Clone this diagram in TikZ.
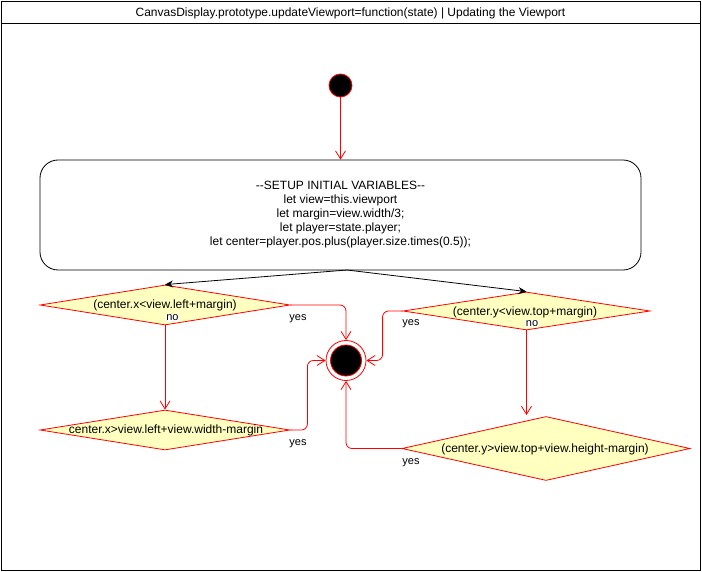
\documentclass[tikz,border=0pt]{standalone}
\usepackage{fontspec}
\setmainfont{Liberation Sans}
\usetikzlibrary{shapes.geometric,arrows.meta}
\definecolor{ured}{HTML}{FF0000}
\definecolor{uyellow}{HTML}{FFFFC0}
\tikzset{
  frame/.style={draw=black, line width=0.8pt},
  txt/.style={font=\fontsize{12}{14}\selectfont, inner sep=0pt, align=center},
  lbl/.style={font=\fontsize{11}{13}\selectfont, inner sep=0.5pt},
  startnode/.style={circle, draw=ured, fill=black, minimum size=23pt, inner sep=0pt, line width=0.8pt},
  finouter/.style={circle, draw=ured, fill=white, minimum size=40pt, inner sep=0pt, line width=0.8pt},
  fininner/.style={circle, draw=ured, fill=black, minimum size=31pt, inner sep=0pt, line width=0.8pt},
  actbox/.style={draw=black, fill=white, rounded corners=18pt, line width=0.8pt, inner sep=0pt},
  decision/.style={diamond, draw=ured, fill=uyellow, inner sep=0pt, line width=0.8pt},
  redflow/.style={draw=ured, line width=0.8pt, -{Straight Barb[length=8pt,width=10pt]}},
  blackflow/.style={draw=black, line width=0.8pt, -{Stealth[length=8pt,width=7pt]}},
}
\begin{document}
\begin{tikzpicture}[x=1pt,y=-1pt]
\useasboundingbox (0,0) rectangle (702,572);
% frame
\draw[frame] (1,1) rectangle (700,570);
\draw[frame] (1,23) -- (700,23);
\node[txt] (title) at (350.5,13) {CanvasDisplay.prototype.updateViewport=function(state) | Updating the Viewport};

% start
\node[startnode] (start) at (340.5,85.5) {};

% setup box
\node[actbox, minimum width=601pt, minimum height=110pt] (setup) at (340.5,215) {};
\node[txt] (setuptxt) at (setup.center) {-{}-SETUP INITIAL VARIABLES-{}-\\let view=this.viewport\\let margin=view.width/3;\\let player=state.player;\\let center=player.pos.plus(player.size.times(0.5));};
\coordinate (split) at (347,270);

% decisions
\node[decision, minimum width=250pt, minimum height=40pt] (d1) at (165,305) {};
\node[txt] (d1t) at (165,305) {(center.x<view.left+margin)};
\node[decision, minimum width=250pt, minimum height=40pt] (d2) at (165,430) {};
\node[txt] (d2t) at (166,430.5) {center.x>view.left+view.width-margin};
\node[decision, minimum width=247pt, minimum height=38pt] (r1) at (526.5,311) {};
\node[txt] (r1t) at (525,312) {(center.y<view.top+margin)};
\node[decision, minimum width=288pt, minimum height=64pt] (r2) at (546,448.5) {};
\node[txt] (r2t) at (545,449) {(center.y>view.top+view.height-margin)};

% final
\node[finouter] (fin) at (346,360.5) {};
\node[fininner] (finin) at (fin.center) {};

% connectors
\draw[redflow] (start) -- (setup.north);
\draw[blackflow] (split) -- (d1.north);
\draw[blackflow] (split) -- (r1.north);
\draw[redflow] (d1.south) -- (d2.north);
\coordinate (r2in) at (r1.south |- 0,415);
\draw[redflow] (r1.south) -- (r2in);
\draw[redflow, rounded corners=6pt] (d1.east) -| (fin.north);
\draw[redflow, rounded corners=6pt] (d2.east) -- ++(17,0) |- (fin.west);
\draw[redflow, rounded corners=6pt] (r1.west) -- ++(-20,0) |- (fin.east);
\draw[redflow, rounded corners=6pt] (r2.west) -| (fin.south);

% labels
\node[lbl, fill=white] (no1) at (172.5,318) {no};
\node[lbl] (yes1) at (298,318.5) {yes};
\node[lbl] (yes2) at (298,443.5) {yes};
\node[lbl, fill=white] (no2) at (532,323.5) {no};
\node[lbl] (yes3) at (411,323.5) {yes};
\node[lbl] (yes4) at (411,462.5) {yes};
\end{tikzpicture}
\end{document}
